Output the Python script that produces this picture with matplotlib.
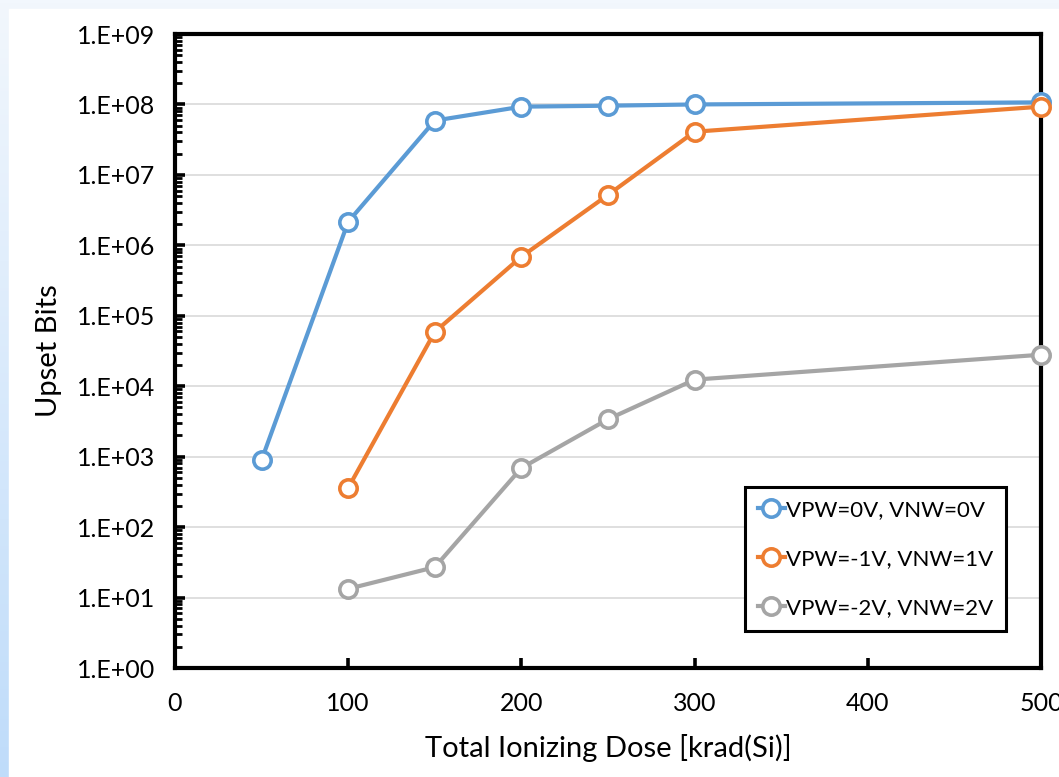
import matplotlib.pyplot as plt
import numpy as np
from matplotlib.ticker import LogLocator, FixedLocator, FuncFormatter
from matplotlib.colors import LinearSegmentedColormap

plt.rcParams['font.family'] = ['Lato', 'DejaVu Sans']

# data
dose = [50, 100, 150, 200, 250, 300, 500]
upset_0v = [9.0e2, 2.16e6, 5.9e7, 9.3e7, 9.6e7, 1.0e8, 1.07e8]
dose_b = [100, 150, 200, 250, 300, 500]
upset_1v = [3.6e2, 5.9e4, 6.9e5, 5.2e6, 4.1e7, 9.3e7]
upset_2v = [13.3, 27, 6.9e2, 3.4e3, 1.24e4, 2.8e4]

labels = ['VPW=0V, VNW=0V', 'VPW=-1V, VNW=1V', 'VPW=-2V, VNW=2V']
colors = ['#5B9BD5', '#ED7D31', '#A5A5A5']
x_ticks = [0, 100, 200, 300, 400, 500]

fig = plt.figure(figsize=(10.59, 7.77), dpi=100)

# slide-like background: light blue gradient border with white panel
bg = fig.add_axes([0, 0, 1, 1], zorder=-10)
grad = np.linspace(0, 1, 256).reshape(-1, 1)
grad = np.hstack([grad, grad])
cmap = LinearSegmentedColormap.from_list('bg', ['#F2F7FD', '#BFDCFA'])
bg.imshow(grad, aspect='auto', cmap=cmap, extent=[0, 1, 0, 1], origin='upper')
bg.add_patch(plt.Rectangle((9 / 1059, 0), 1, 1 - 9 / 777, color='white'))
bg.set_xlim(0, 1)
bg.set_ylim(0, 1)
bg.axis('off')

ax = fig.add_axes([175 / 1059, 1 - 668 / 777, 866 / 1059, 634 / 777])

series = [(dose, upset_0v), (dose_b, upset_1v), (dose_b, upset_2v)]
for (xs, ys), lab, col in zip(series, labels, colors):
    ax.plot(xs, ys, color=col, lw=3, marker='o', ms=12.5, mfc='white',
            mec=col, mew=2.6, label=lab, clip_on=False, zorder=3)

ax.set_yscale('log')
ax.set_ylim(1, 1e9)
ax.set_xlim(0, 500)
ax.xaxis.set_major_locator(FixedLocator(x_ticks))
ax.yaxis.set_major_locator(LogLocator(base=10, numticks=20))
ax.yaxis.set_minor_locator(LogLocator(base=10, subs=np.arange(2, 10), numticks=20))
ax.yaxis.set_major_formatter(FuncFormatter(lambda v, p: '1.E+%02d' % round(np.log10(v))))

ax.grid(True, axis='y', which='major', color='#D9D9D9', lw=1.2)
ax.set_axisbelow(True)

for side in ['top', 'right', 'bottom', 'left']:
    ax.spines[side].set_linewidth(3)
    ax.spines[side].set_color('black')

ax.tick_params(axis='both', which='major', direction='in', length=7, width=2.6,
               labelsize=18, colors='black')
ax.tick_params(axis='x', pad=17)
ax.tick_params(axis='y', pad=14)
ax.tick_params(axis='y', which='minor', direction='in', length=5, width=2)

ax.set_xlabel('Total Ionizing Dose [krad(Si)]', fontsize=21, labelpad=14)
ax.set_ylabel('Upset Bits', fontsize=21, labelpad=11)

leg = ax.legend(loc='lower right', bbox_to_anchor=(0.96, 0.058), fontsize=16,
                frameon=True, fancybox=False, edgecolor='black', framealpha=1,
                handlelength=1.2, handletextpad=0.05, labelspacing=1.3,
                borderpad=0.6, borderaxespad=0)
leg.get_frame().set_linewidth(2.2)

fig.savefig('out.png', dpi=100)
